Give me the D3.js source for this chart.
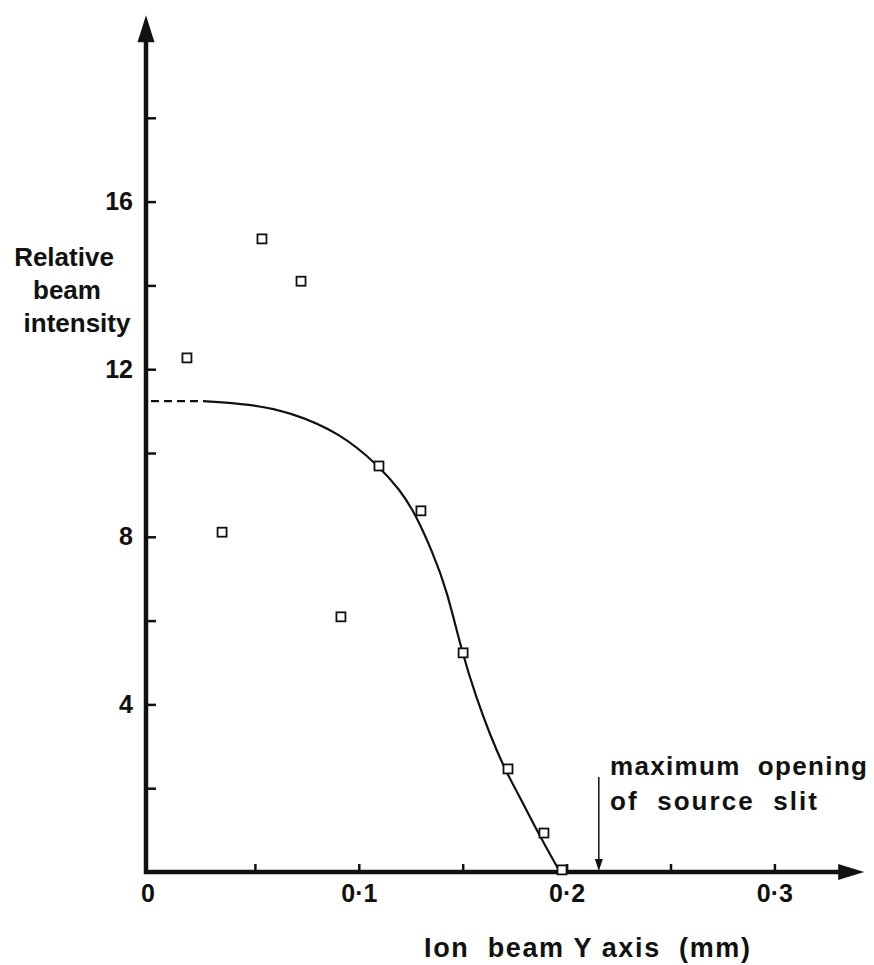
<!DOCTYPE html>
<html>
<head>
<meta charset="utf-8">
<script src="https://cdn.jsdelivr.net/npm/d3@7/dist/d3.min.js"></script>
<style>
  html, body { margin: 0; padding: 0; background: #fff; }
  svg text { font-family: "Liberation Sans", Arial, Helvetica, sans-serif; font-weight: bold; fill: #111; }
</style>
</head>
<body>
<svg id="chart" width="874" height="965"></svg>
<script>
// ---- data ----
const measX = [0.0173, 0.0342, 0.0534, 0.0722, 0.0914, 0.1097, 0.1299, 0.1502, 0.1718, 0.1891, 0.1978];
const measY = [12.27, 8.11, 15.11, 14.10, 6.09, 9.69, 8.62, 5.23, 2.46, 0.93, 0.05];

const curveX = [0.025, 0.0476, 0.0669, 0.091, 0.1097, 0.1198, 0.127, 0.1357, 0.1424, 0.1497, 0.1569, 0.1632, 0.1704, 0.179, 0.1863, 0.1968];
const curveY = [11.24, 11.17, 10.98, 10.48, 9.69, 9.12, 8.57, 7.61, 6.73, 5.23, 4.11, 3.27, 2.43, 1.65, 0.93, 0.0];

const dashX = [0, 0.025];
const dashY = [11.24, 11.24];

const yTickValues = [2, 4, 6, 8, 10, 12, 14, 16, 18];
const yTickLabels = { 4: "4", 8: "8", 12: "12", 16: "16" };
const xTickValues = [0, 0.05, 0.1, 0.15, 0.2, 0.25, 0.3];
const xTickLabels = { 0: "0", 0.1: "0·1", 0.2: "0·2", 0.3: "0·3" };

const slitX = 0.2155;
const yTitleLines = ["Relative", "beam", "intensity"];
const xTitle = "Ion  beam Y axis  (mm)";
const slitLines = ["maximum  opening", "of  source  slit"];

// ---- scales ----
const svg = d3.select("#chart");
const x = d3.scaleLinear().domain([0, 0.3]).range([151, 774.4]);
const y = d3.scaleLinear().domain([0, 20]).range([872, 34]);
const axX = 146, axY = y(0);

// ---- axes lines with arrowheads ----
const yTip = y(20.45), xTip = x(0.3432);
svg.append("line").attr("x1", axX).attr("y1", axY + 2).attr("x2", axX).attr("y2", yTip + 20)
  .attr("stroke", "#111").attr("stroke-width", 4.5);
svg.append("path")
  .attr("d", `M${axX},${yTip} L${axX - 8.5},${yTip + 27} L${axX + 8.5},${yTip + 27} Z`)
  .attr("fill", "#111");
svg.append("line").attr("x1", axX - 2).attr("y1", axY).attr("x2", xTip - 20).attr("y2", axY)
  .attr("stroke", "#111").attr("stroke-width", 4.5);
svg.append("path")
  .attr("d", `M${xTip},${axY} L${xTip - 26},${axY - 8} L${xTip - 26},${axY + 8} Z`)
  .attr("fill", "#111");

// ---- y axis ticks (inward) ----
const yAxis = d3.axisLeft(y).tickValues(yTickValues)
  .tickSizeInner(-10).tickSizeOuter(0).tickPadding(13)
  .tickFormat(d => yTickLabels[d] || "");
const gy = svg.append("g").attr("transform", `translate(${axX},0)`).call(yAxis);
gy.select(".domain").remove();
gy.selectAll(".tick line").attr("stroke", "#111").attr("stroke-width", 2.5);
gy.selectAll(".tick text").attr("font-size", 25).attr("fill", "#111")
  .style("font-family", '"Liberation Sans", Arial, sans-serif').style("font-weight", "bold");

// ---- x axis ticks (inward) ----
const xAxis = d3.axisBottom(x).tickValues(xTickValues)
  .tickSizeInner(-8).tickSizeOuter(0).tickPadding(12)
  .tickFormat(d => xTickLabels[d] || "");
const gx = svg.append("g").attr("transform", `translate(0,${axY})`).call(xAxis);
gx.select(".domain").remove();
gx.selectAll(".tick line").attr("stroke", "#111").attr("stroke-width", 2.5)
  .attr("display", d => d === 0 ? "none" : null);
gx.selectAll(".tick text").attr("font-size", 25).attr("fill", "#111")
  .style("font-family", '"Liberation Sans", Arial, sans-serif').style("font-weight", "bold");
gx.selectAll(".tick").filter(d => d === 0).attr("transform", `translate(${axX + 2},0)`);

// ---- dashed extrapolation ----
const line = d3.line().x(d => x(d[0])).y(d => y(d[1]));
svg.append("path").datum(d3.zip(dashX, dashY)).attr("d", line)
  .attr("fill", "none").attr("stroke", "#111").attr("stroke-width", 2.2)
  .attr("stroke-dasharray", "8,5");

// ---- fitted curve ----
const curveLine = d3.line().x(d => x(d[0])).y(d => y(d[1])).curve(d3.curveBasis);
svg.append("path").datum(d3.zip(curveX, curveY)).attr("d", curveLine)
  .attr("fill", "none").attr("stroke", "#111").attr("stroke-width", 2.2);

// ---- measured points ----
const s = 9;
svg.append("g").selectAll("rect").data(d3.zip(measX, measY)).join("rect")
  .attr("x", d => x(d[0]) - s / 2).attr("y", d => y(d[1]) - s / 2)
  .attr("width", s).attr("height", s)
  .attr("fill", "#fff").attr("stroke", "#111").attr("stroke-width", 1.8);

// ---- slit annotation ----
const sx = x(slitX);
svg.append("line").attr("x1", sx).attr("y1", 777).attr("x2", sx).attr("y2", axY - 10)
  .attr("stroke", "#111").attr("stroke-width", 1.5);
svg.append("path")
  .attr("d", `M${sx},${axY - 1} L${sx - 4},${axY - 13} L${sx + 4},${axY - 13} Z`)
  .attr("fill", "#111");
const slitText = svg.append("g");
slitText.append("text").attr("x", 610).attr("y", 775).attr("font-size", 26)
  .attr("textLength", 257).attr("lengthAdjust", "spacing")
  .style("white-space", "pre").text(slitLines[0]);
slitText.append("text").attr("x", 610).attr("y", 810).attr("font-size", 26)
  .attr("textLength", 207).attr("lengthAdjust", "spacing")
  .style("white-space", "pre").text(slitLines[1]);

// ---- axis titles ----
const yTitleX = [64, 67, 77];
const yTitleYs = [266, 299, 332];
svg.append("g").selectAll("text").data(yTitleLines).join("text")
  .attr("x", (d, i) => yTitleX[i]).attr("y", (d, i) => yTitleYs[i])
  .attr("text-anchor", "middle").attr("font-size", 26).text(d => d);

svg.append("text").attr("x", 424).attr("y", 957).attr("font-size", 27)
  .attr("textLength", 326).attr("lengthAdjust", "spacing")
  .style("white-space", "pre").text(xTitle);
</script>
</body>
</html>
